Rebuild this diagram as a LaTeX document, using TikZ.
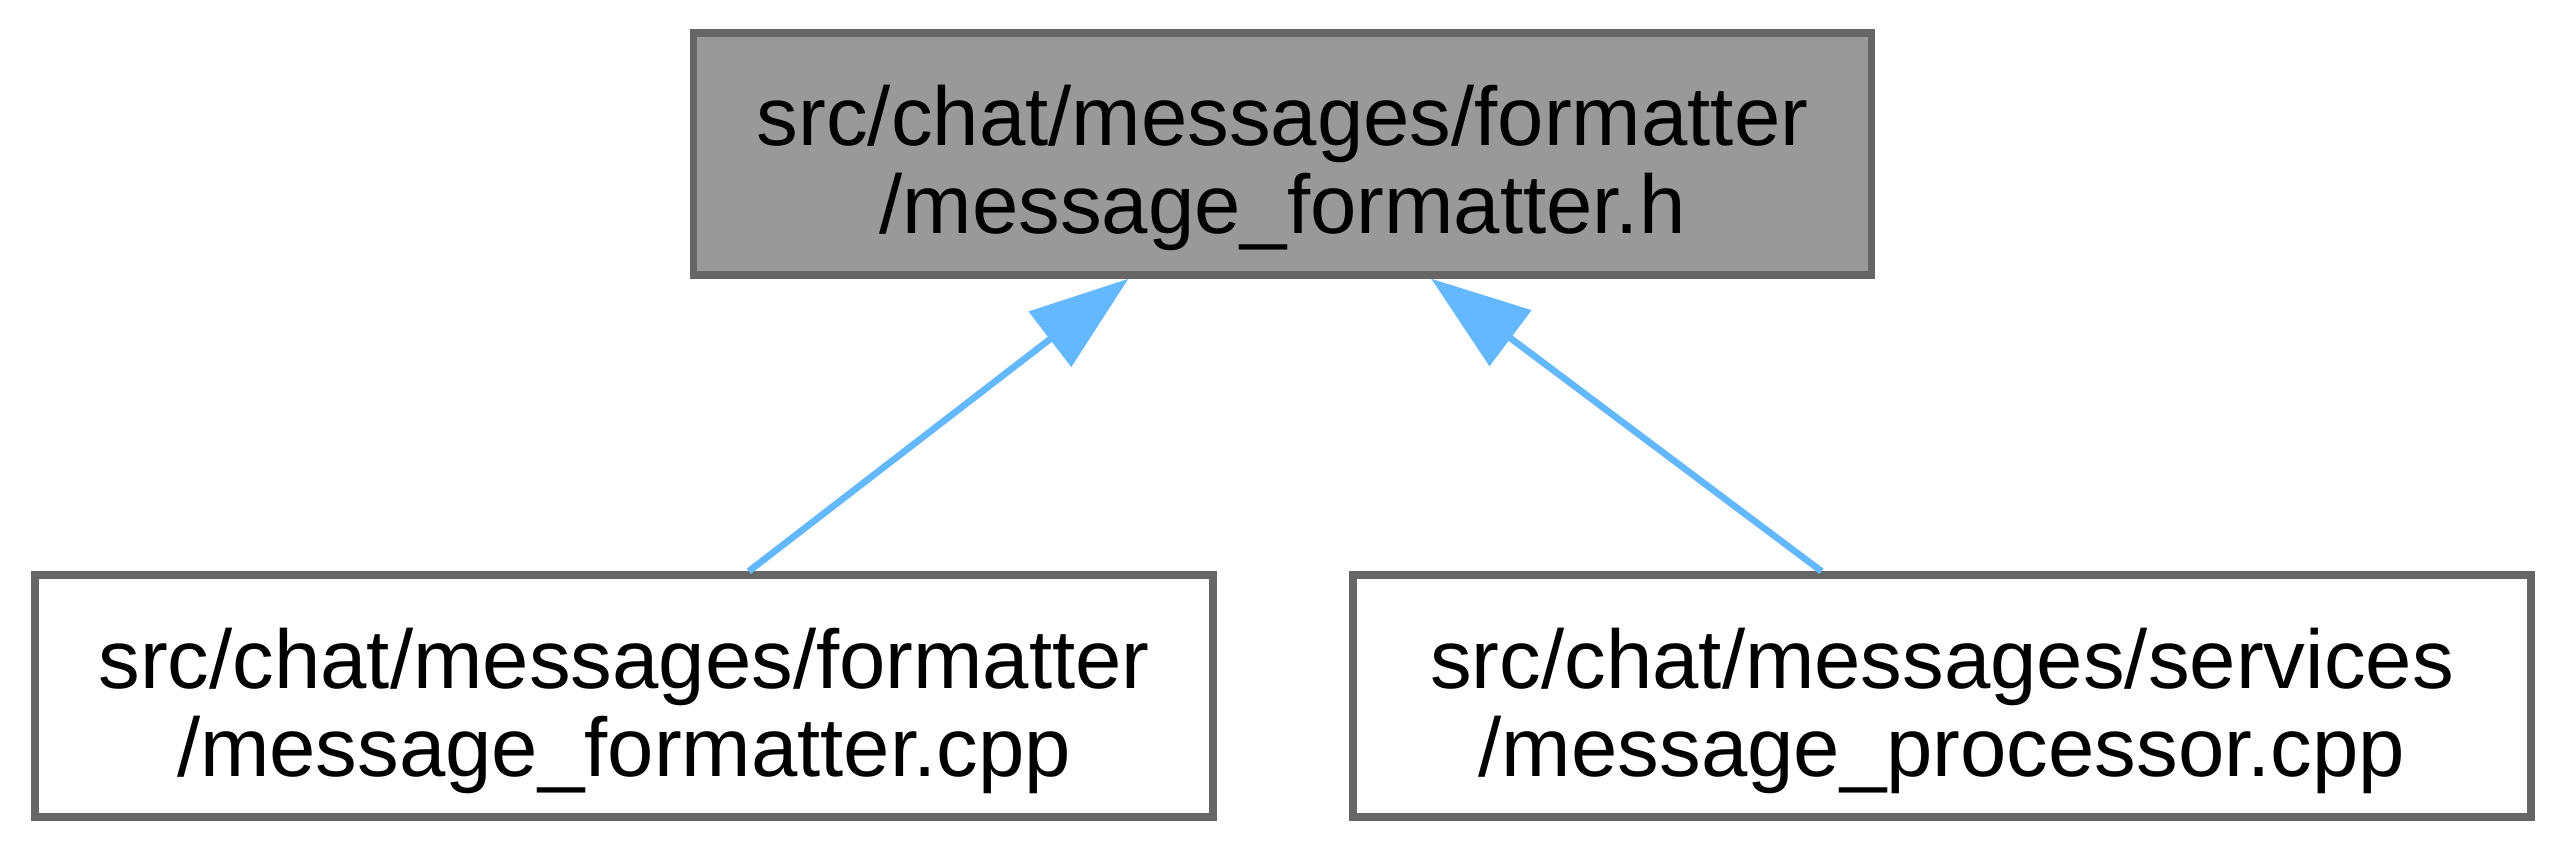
\documentclass[tikz,border=0pt]{standalone}
\usepackage{fontspec}
\setmainfont{Liberation Sans}
\usepackage{xcolor}
\usepackage{tikz}
\usetikzlibrary{arrows.meta}

\definecolor{nodeborder}{HTML}{666666}
\definecolor{nodefill}{HTML}{999999}
\definecolor{edgeblue}{HTML}{63B8FF}

\begin{document}
\begin{tikzpicture}[
  file/.style={draw=nodeborder, line width=0.9pt, fill=white, align=center,
    minimum width=141.36pt, minimum height=29.04pt, inner sep=0pt,
    text height=21.3pt, text depth=2.1pt,
    font=\fontsize{10}{10.56}\selectfont},
  current/.style={file, fill=nodefill},
  edge/.style={draw=edgeblue, line width=0.8pt,
    -{Triangle[length=11.9pt,width=8.2pt,fill=edgeblue]}}
]
  % Page size
  \useasboundingbox (0,0) rectangle (308.04pt,102pt);

  % Header file (top)
  \node[current] (main) at (153.9pt,83.52pt) {src/chat/messages/formatter\\/message\_formatter.h};

  % Files that include it (bottom row)
  \node[file] (fmtcpp) at (74.88pt,18.48pt) {src/chat/messages/formatter\\/message\_formatter.cpp};
  \node[file] (proccpp) at (233.04pt,18.48pt) {src/chat/messages/services\\/message\_processor.cpp};

  % Include edges, arrows point at the header
  \draw[edge] (fmtcpp.45.4) -- (main.219.8);
  \draw[edge] (proccpp.134.6) -- (main.320.2);
\end{tikzpicture}
\end{document}
